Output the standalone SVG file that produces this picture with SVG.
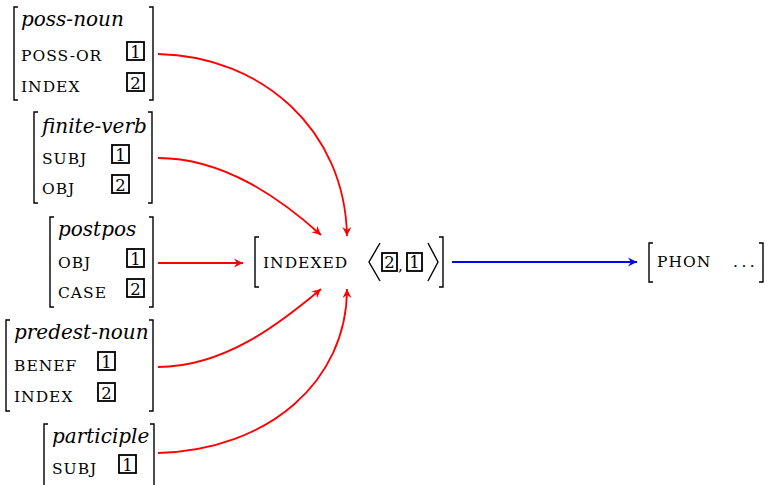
<svg xmlns="http://www.w3.org/2000/svg" width="768" height="485" viewBox="0 0 768 485">
<style>
.br{fill:none;stroke:#000;stroke-width:1.4}
.tp{font-family:"DejaVu Serif",serif;font-style:italic;font-size:20px;fill:#000}
.ft{font-family:"DejaVu Serif",serif;font-size:15.5px;letter-spacing:1px;fill:#000}
.bx{fill:none;stroke:#000;stroke-width:1.8}
.dg{font-family:"DejaVu Serif",serif;font-size:16.5px;fill:#000;text-anchor:middle}
.ra{fill:none;stroke:#ff0000;stroke-width:1.8}
.ba{fill:none;stroke:#0000ff;stroke-width:1.8}
</style>
<defs>
<marker id="ahr" markerWidth="12" markerHeight="10" viewBox="-10 -5 12 10" refX="0" refY="0" orient="auto" markerUnits="userSpaceOnUse">
<path d="M0,0 L-9,-4.5 L-6,0 L-9,4.5 Z" fill="#ff0000"/>
</marker>
<marker id="ahb" markerWidth="12" markerHeight="10" viewBox="-10 -5 12 10" refX="0" refY="0" orient="auto" markerUnits="userSpaceOnUse">
<path d="M0,0 L-9,-4.5 L-6,0 L-9,4.5 Z" fill="#0000ff"/>
</marker>
</defs>

<g id="avm-poss-noun">
<path class="br" d="M18,7 H14 V100 H18 M149,7 H153 V100 H149"/>
<text class="tp" x="21" y="26">poss-noun</text>
<text class="ft" x="21" y="61">POSS-OR</text>
<rect class="bx" x="127" y="42" width="17" height="18"/>
<text class="dg" x="135.5" y="57.5">1</text>
<text class="ft" x="21" y="92">INDEX</text>
<rect class="bx" x="127" y="73" width="17" height="18"/>
<text class="dg" x="135.5" y="88.5">2</text>
</g>

<g id="avm-finite-verb">
<path class="br" d="M38,112 H34 V203 H38 M148,112 H152 V203 H148"/>
<text class="tp" x="42" y="133">finite-verb</text>
<text class="ft" x="42" y="164">SUBJ</text>
<rect class="bx" x="112" y="145" width="17" height="18"/>
<text class="dg" x="120.5" y="160.5">1</text>
<text class="ft" x="42" y="194">OBJ</text>
<rect class="bx" x="112" y="175" width="17" height="18"/>
<text class="dg" x="120.5" y="190.5">2</text>
</g>

<g id="avm-postpos">
<path class="br" d="M54,217 H50 V307 H54 M149,217 H153 V307 H149"/>
<text class="tp" x="58" y="236">postpos</text>
<text class="ft" x="58" y="268">OBJ</text>
<rect class="bx" x="127" y="249" width="17" height="18"/>
<text class="dg" x="135.5" y="264.5">1</text>
<text class="ft" x="58" y="298">CASE</text>
<rect class="bx" x="127" y="279" width="17" height="18"/>
<text class="dg" x="135.5" y="294.5">2</text>
</g>

<g id="avm-predest-noun">
<path class="br" d="M10,320 H6 V411 H10 M149,320 H153 V411 H149"/>
<text class="tp" x="14" y="339">predest-noun</text>
<text class="ft" x="14" y="371">BENEF</text>
<rect class="bx" x="98" y="352" width="17" height="18"/>
<text class="dg" x="106.5" y="367.5">1</text>
<text class="ft" x="14" y="402">INDEX</text>
<rect class="bx" x="98" y="383" width="17" height="18"/>
<text class="dg" x="106.5" y="398.5">2</text>
</g>

<g id="avm-participle">
<path class="br" d="M48,424 H44 V490 M150,424 H154 V490"/>
<text class="tp" x="52" y="443">participle</text>
<text class="ft" x="52" y="474">SUBJ</text>
<rect class="bx" x="119" y="455" width="17" height="18"/>
<text class="dg" x="127.5" y="470.5">1</text>
</g>

<g id="indexed">
<path class="br" d="M259,237 H255 V287 H259 M439,237 H443 V287 H439"/>
<text class="ft" x="263" y="268">INDEXED</text>
<path class="br" d="M380,243 L369,262 L380,281 M428,243 L438,262 L428,281"/>
<rect class="bx" x="382" y="253" width="15" height="18"/>
<text class="dg" x="389.5" y="268">2</text>
<text class="ft" x="398" y="271">,</text>
<rect class="bx" x="407" y="253" width="15" height="18"/>
<text class="dg" x="414.5" y="268">1</text>
</g>

<g id="phon">
<path class="br" d="M653,243 H649 V282 H653 M759,243 H763 V282 H759"/>
<text class="ft" x="657" y="267">PHON</text>
<text class="ft" x="733" y="267" style="letter-spacing:3.5px">...</text>
</g>

<g id="connectors">
<path class="ra" marker-end="url(#ahr)" d="M158,54 C262,56 345,130 347,236"/>
<path class="ra" marker-end="url(#ahr)" d="M158,158 C225,158 282,200 321,235"/>
<path class="ra" marker-end="url(#ahr)" d="M158,263 L243,263"/>
<path class="ra" marker-end="url(#ahr)" d="M158,367 C225,367 282,322 321,289"/>
<path class="ra" marker-end="url(#ahr)" d="M158,453 C270,450 347,380 347,289"/>
<path class="ba" marker-end="url(#ahb)" d="M452,262 L637,262"/>
</g>
</svg>
